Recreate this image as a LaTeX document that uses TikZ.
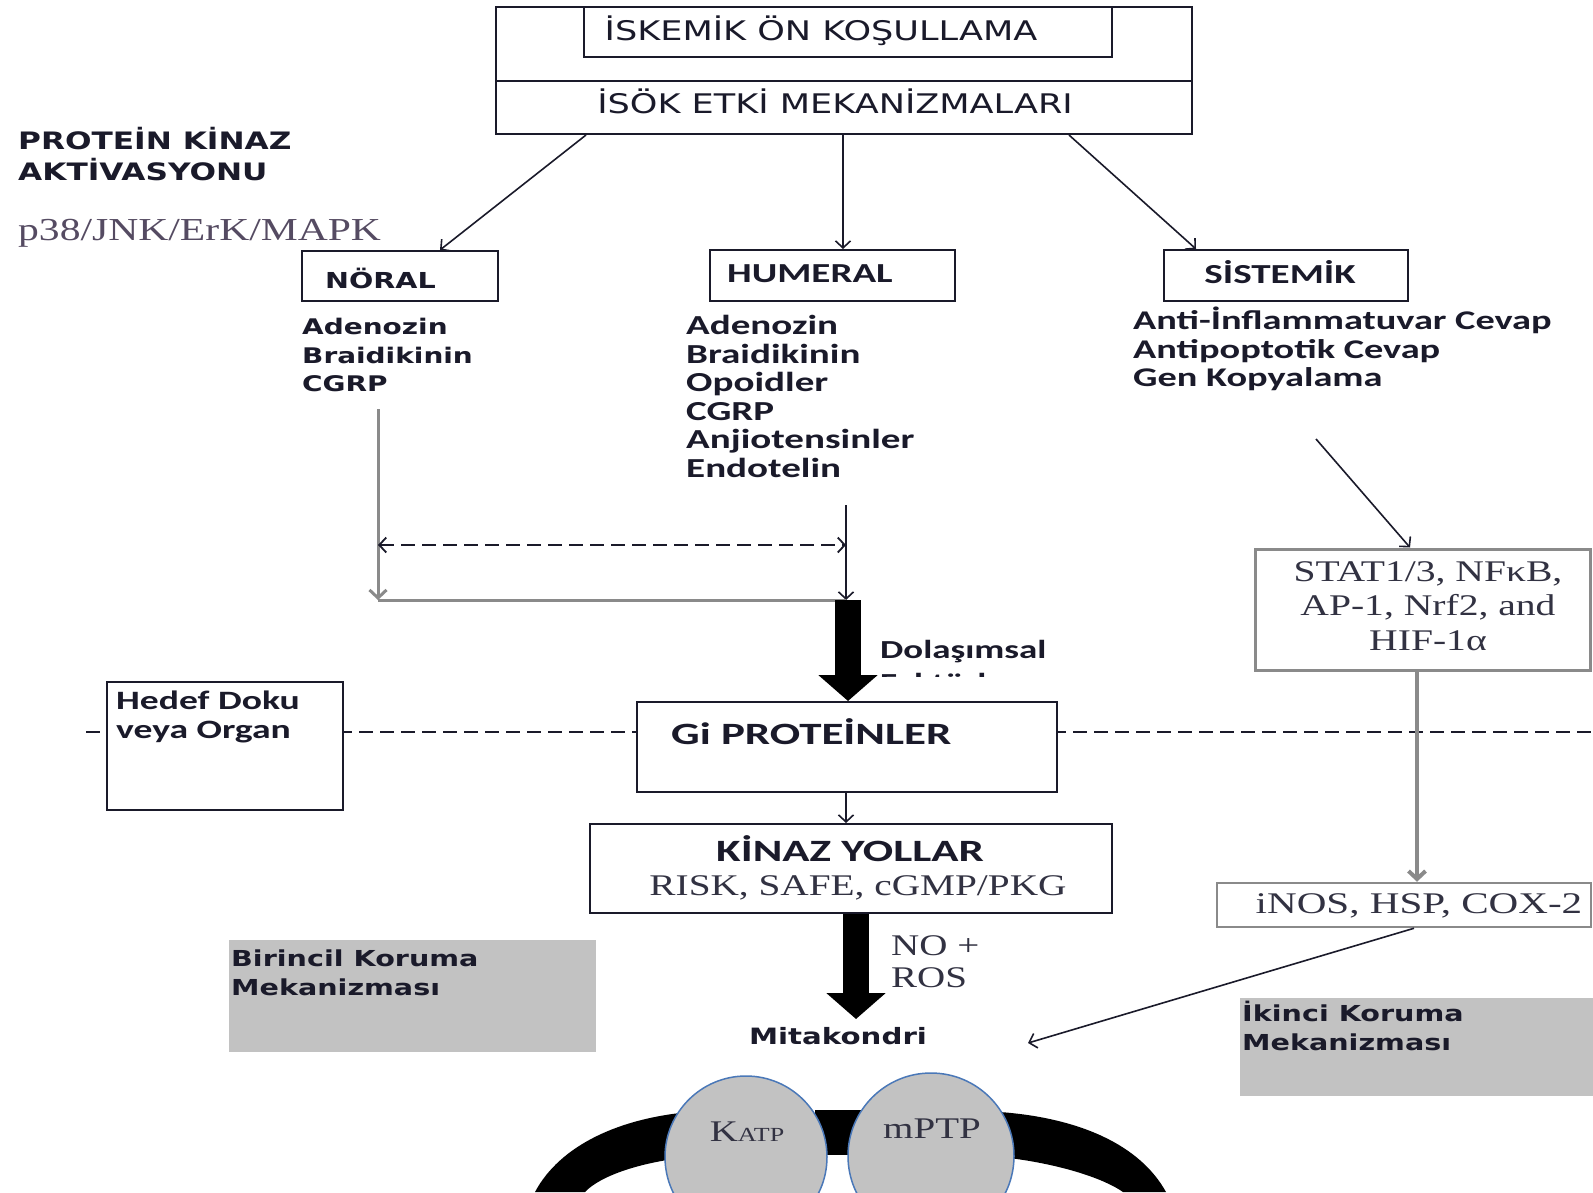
\documentclass[tikz,border=0pt]{standalone}
\usepackage{fontspec}
\usepackage{graphicx}
\usetikzlibrary{arrows.meta,calc}
\newfontfamily\dvs{DejaVu Sans}
\newfontfamily\crl{Carlito}
\newfontfamily\tms{Liberation Serif}
\newcommand{\sx}[2]{\scalebox{#1}[1]{#2}}
\definecolor{ink}{HTML}{1A1A2A}
\definecolor{serif}{HTML}{323242}
\definecolor{pgray}{HTML}{554B62}
\definecolor{lgray}{HTML}{C2C2C2}
\definecolor{lineg}{HTML}{8A8A8A}
\definecolor{ring}{HTML}{4A78B8}
\begin{document}
\begin{tikzpicture}[x=1pt,y=-1pt,
  box/.style={draw=ink, line width=2pt, fill=white, inner sep=0pt},
  graybox/.style={fill=lgray, inner sep=0pt},
  lbl/.style={inner sep=0pt, text=ink},
  dvsr/.style={font=\dvs\fontsize{#1}{#1}\selectfont},
  dvsb/.style={font=\dvs\bfseries\fontsize{#1}{28.5}\selectfont},
  crlb/.style={font=\crl\bfseries\fontsize{#1}{28.5}\selectfont},
  tmsr/.style={font=\tms\fontsize{#1}{34.5}\selectfont},
  tip/.tip={Straight Barb[length=7pt,width=15pt]},
  arr/.style={draw=ink, line width=1.6pt, -tip},
  garr/.style={draw=lineg, line width=3pt, -{Straight Barb[length=8pt,width=17pt]}},
  gline/.style={draw=lineg, line width=3pt},
  darr/.style={draw=ink, line width=1.8pt, dash pattern=on 14pt off 7pt, tip-tip},
  dline/.style={draw=ink, line width=1.8pt, dash pattern=on 14pt off 7pt},
  bigarr/.style={draw=black, line width=26pt, -{Triangle[length=26pt,width=58pt]}},
]
\useasboundingbox (0,0) rectangle (1593,1192);
\clip (0,0) rectangle (1593,1192);
\fill[white] (0,0) rectangle (1593,1192);

% --- title block ---
\node[box, minimum width=696pt, minimum height=127pt] (outer) at (844,70.5) {};
\node[box, minimum width=528pt, minimum height=50pt] (cond) at (848,32) {};
\coordinate (dv) at (496,81);
\draw[ink, line width=2pt] (dv) -- (dv -| outer.east);
\node[lbl, dvsr=27] (condtxt) at (821,31) {\sx{1.3}{İSKEMİK ÖN KOŞULLAMA}};
\node[lbl, dvsr=27] (mechtxt) at (835,101) {\sx{1.3}{İSÖK ETKİ MEKANİZMALARI}};

% --- left heading ---
\node[lbl, anchor=north west, align=left, font=\dvs\bfseries\fontsize{24}{31}\selectfont] (pka) at (18,127)
  {\sx{1.3}{PROTEİN KİNAZ}\\\sx{1.3}{AKTİVASYONU}};
\node[lbl, anchor=west, font=\tms\fontsize{32}{32}\selectfont, text=pgray] (mapk) at (18,233) {\sx{1.3}{p38/JNK/ErK/MAPK}};

% --- three pathways ---
\node[box, minimum width=196pt, minimum height=50pt] (noral) at (400,276) {};
\node[lbl, anchor=west, dvsb=22] (noraltxt) at (325,278) {\sx{1.3}{NÖRAL}};
\node[box, minimum width=245pt, minimum height=51pt] (humeral) at (832.5,275.5) {};
\node[lbl, anchor=west, crlb=27.5] (humtxt) at (727,274) {\sx{1.42}{HUMERAL}};
\node[box, minimum width=244pt, minimum height=51pt] (sist) at (1286,275.5) {};
\node[lbl, crlb=27.5] (sisttxt) at (1280,272) {\sx{1.42}{SİSTEMİK}};

\coordinate (xa) at (586,0); \coordinate (xb) at (440,0);
\coordinate (xc) at (843,0);
\coordinate (xd) at (1069,0); \coordinate (xe) at (1196,0);
\draw[arr] (outer.south -| xa) -- (noral.north -| xb);
\draw[arr] (outer.south -| xc) -- (humeral.north -| xc);
\draw[arr] (outer.south -| xd) -- (sist.north -| xe);

\node[lbl, anchor=north west, align=left, dvsb=21.5] (nlist) at (302,318)
  {\sx{1.3}{Adenozin}\\\sx{1.3}{Braidikinin}\\\sx{1.3}{CGRP}};
\node[lbl, anchor=north west, align=left, crlb=27.5] (hlist) at (686,315)
  {\sx{1.42}{Adenozin}\\\sx{1.42}{Braidikinin}\\\sx{1.42}{Opoidler}\\\sx{1.42}{CGRP}\\\sx{1.42}{Anjiotensinler}\\\sx{1.42}{Endotelin}};
\node[lbl, anchor=north west, align=left, crlb=27] (slist) at (1133,307)
  {\sx{1.42}{Anti-İnflammatuvar Cevap}\\\sx{1.42}{Antipoptotik Cevap}\\\sx{1.42}{Gen Kopyalama}};

% --- merging of neural and humoral signals ---
\coordinate (nv) at (378,409);
\coordinate (jl) at (378,600);
\coordinate (hv) at (846,505);
\coordinate (jn) at (846,600);
\coordinate (dl1) at (378,545);
\coordinate (dl2) at (846,545);
\draw[garr] (nv) -- (jl);
\draw[arr] (hv) -- (jn);
\draw[gline] (jl) -- (jn);
\draw[darr] (dl1) -- (dl2);

% --- tissue level ---
\coordinate (dh1) at (86,732);
\coordinate (dh2) at (1593,732);
\draw[dline] (dh1) -- (dh2);
\node[box, minimum width=236pt, minimum height=128pt] (hedef) at (225,746) {};
\node[lbl, anchor=north west, align=left, crlb=26.5] (hedeftxt) at (116,691)
  {\sx{1.42}{Hedef Doku}\\\sx{1.42}{veya Organ}};
\node[box, minimum width=420pt, minimum height=90pt] (gi) at (847,747) {};
\node[lbl, anchor=west, crlb=31] (gitxt) at (671,732) {\sx{1.45}{Gi PROTEİNLER}};

\coordinate (ta) at (848,600);
\draw[bigarr] (ta) -- (gi.north -| ta);

\begin{scope}
  \clip (870,620) rectangle (1100,676);
  \node[lbl, anchor=north west, align=left, font=\crl\bfseries\fontsize{26}{33}\selectfont] (dolas) at (880,640)
    {\sx{1.42}{Dolaşımsal}\\\sx{1.42}{Faktörler}};
\end{scope}

% --- kinase pathways ---
\node[box, minimum width=522pt, minimum height=89pt] (kinaz) at (851,868.5) {};
\node[lbl, crlb=31] (kinaztxt) at (850,849) {\sx{1.45}{KİNAZ YOLLAR}};
\node[lbl, font=\tms\fontsize{30}{30}\selectfont, text=serif] (risk) at (858,888) {\sx{1.31}{RISK, SAFE, cGMP/PKG}};
\coordinate (xg) at (846,0);
\draw[arr] (gi.south -| xg) -- (kinaz.north -| xg);

\coordinate (tb) at (856,0);
\coordinate (mt) at (856,1019);
\draw[bigarr] (kinaz.south -| tb) -- (mt);
\node[lbl, anchor=north west, align=left, font=\tms\fontsize{30}{32.5}\selectfont, text=serif] (noros) at (891,935)
  {\sx{1.3}{NO +}\\\sx{1.3}{ROS}};

\node[lbl, dvsb=22.5] (mito) at (838,1036) {\sx{1.3}{Mitakondri}};

% --- protection mechanisms ---
\node[graybox, minimum width=367pt, minimum height=112pt] (prim) at (412.5,996) {};
\node[lbl, anchor=north west, align=left, dvsb=22] (primtxt) at (231,950)
  {\sx{1.3}{Birincil Koruma}\\\sx{1.3}{Mekanizması}};
\node[graybox, minimum width=353pt, minimum height=98pt] (sec) at (1416.5,1047) {};
\node[lbl, anchor=north west, align=left, dvsb=22] (sectxt) at (1242,1001)
  {\sx{1.3}{İkinci Koruma}\\\sx{1.3}{Mekanizması}};

% --- systemic branch ---
\node[box, draw=lineg, line width=3pt, minimum width=335pt, minimum height=121pt] (stat) at (1422.5,609.5) {};
\node[lbl, align=center, tmsr=30, text=serif] (stattxt) at (1428,606)
  {\sx{1.32}{STAT1/3, NFκB,}\\\sx{1.32}{AP-1, Nrf2, and}\\\sx{1.32}{HIF-1α}};
\coordinate (sa) at (1316,439);
\coordinate (sb) at (1410,0);
\draw[arr] (sa) -- (stat.north -| sb);

\node[box, draw=lineg, line width=2.5pt, minimum width=374pt, minimum height=44pt] (inos) at (1404,905) {};
\node[lbl, font=\tms\fontsize{30}{30}\selectfont, text=serif] (inostxt) at (1419,906) {\sx{1.37}{iNOS, HSP, COX-2}};
\coordinate (gx) at (1417,0);
\draw[garr, line width=4pt] (stat.south -| gx) -- (inos.north -| gx);

\coordinate (ia) at (1414,0);
\coordinate (ib) at (1028,1043);
\draw[arr] (inos.south -| ia) -- (ib);

% --- mitochondrial membrane with channels ---
\fill[black] (535,1192) .. controls (560,1145) and (620,1118) .. (690,1112)
  -- (690,1157) .. controls (640,1162) and (600,1176) .. (585,1192) -- cycle;
\fill[black] (1166,1192) .. controls (1140,1145) and (1080,1118) .. (1000,1112)
  -- (1000,1157) .. controls (1050,1162) and (1100,1176) .. (1123,1192) -- cycle;
\fill[black] (815,1110) rectangle (862,1155);
\node[circle, fill=lgray, draw=ring, line width=1.5pt, minimum size=162pt, inner sep=0pt] (katp) at (746,1157) {};
\node[circle, fill=lgray, draw=ring, line width=1.5pt, minimum size=166pt, inner sep=0pt] (mptp) at (931,1156) {};
\node[lbl, text=serif, font=\tms\fontsize{30}{30}\selectfont] (katptxt) at (747,1132)
  {\sx{1.3}{K{\fontsize{20}{20}\selectfont ATP}}};
\node[lbl, text=serif, font=\tms\fontsize{30}{30}\selectfont] (mptptxt) at (932,1129) {\sx{1.3}{mPTP}};
\end{tikzpicture}
\end{document}
